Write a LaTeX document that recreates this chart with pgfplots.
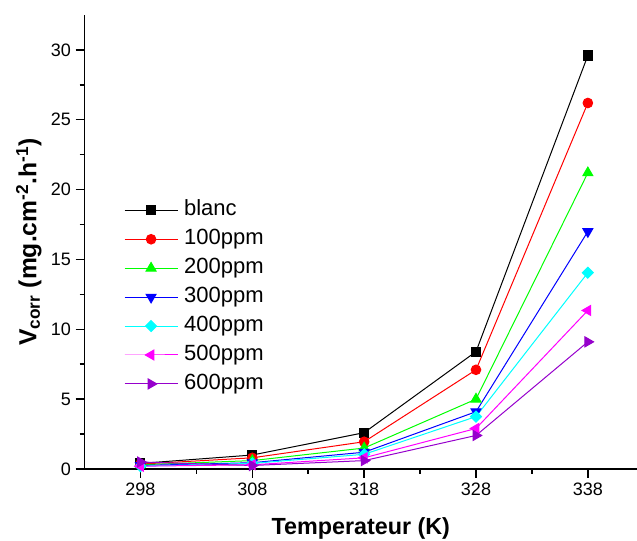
\documentclass[border=0pt]{standalone}
\usepackage{fontspec}
\setmainfont{Liberation Sans}
\usepackage{pgfplots}
\pgfplotsset{compat=1.18}
\definecolor{mypurple}{RGB}{150,0,204}
\definecolor{mycyan}{RGB}{0,255,255}
\definecolor{mymagenta}{RGB}{255,0,255}
\definecolor{mygreen}{RGB}{0,255,0}
\definecolor{myblue}{RGB}{0,0,255}
\definecolor{myred}{RGB}{255,0,0}
\begin{document}
\begin{tikzpicture}
\begin{axis}[
  scale only axis,
  width=414.4pt, height=340.5pt,
  xmin=293, xmax=342.4, ymin=0, ymax=32.5,
  axis lines=left,
  axis line style={-, line width=1.3pt},
  xtick={298,308,318,328,338},
  ytick={0,5,10,15,20,25,30},
  minor x tick num=1, minor y tick num=1,
  tick align=outside,
  major tick length=6.75pt, minor tick length=3.75pt,
  every tick/.style={black, line width=1.1pt},
  /pgf/number format/assume math mode=true,
  /pgf/number format/1000 sep={},
  tick label style={font=\fontsize{13.5}{16}\selectfont},
  xlabel={\textbf{Temperateur (K)}},
  ylabel={\textbf{V\textsubscript{corr} (mg.cm\textsuperscript{-2}.h\textsuperscript{-1})}},
  xlabel style={font=\fontsize{17.5}{20}\selectfont, yshift=-10pt},
  ylabel style={font=\fontsize{18.5}{21}\selectfont},
  clip=false,
  legend cell align=left,
  legend image code/.code={\draw[mark repeat=2,mark phase=2,#1] plot coordinates {(0pt,0pt) (19.9pt,0pt) (39.8pt,0pt)};},
  legend style={draw=none, fill=none, inner sep=0pt, outer sep=0pt,
    at={(0.0715,0.5925)}, anchor=north west,
    font=\fontsize{16.5}{19}\selectfont,
    nodes={inner sep=0pt, text height=12pt, text depth=3.5pt},
    row sep=6.2pt,
    /tikz/every odd column/.append style={column sep=4.5pt}},
  every axis plot/.append style={line width=0.75pt},
]
\addplot[black, mark=square*, mark size=3.4pt] coordinates {(298,0.4) (308,1.0) (318,2.6) (328,8.4) (338,29.6)};
\addlegendentry{blanc}
\addplot[myred, mark=*, mark size=3.6pt] coordinates {(298,0.35) (308,0.8) (318,1.95) (328,7.1) (338,26.2)};
\addlegendentry{100ppm}
\addplot[mygreen, mark=triangle*, mark size=4.3pt] coordinates {(298,0.3) (308,0.6) (318,1.5) (328,5.0) (338,21.2)};
\addlegendentry{200ppm}
\addplot[myblue, mark=triangle*, mark size=4.3pt, mark options={rotate=180}] coordinates {(298,0.25) (308,0.45) (318,1.2) (328,4.1) (338,17.0)};
\addlegendentry{300ppm}
\addplot[mycyan, mark=square*, mark size=2.9pt, mark options={rotate=45}] coordinates {(298,0.2) (308,0.4) (318,1.05) (328,3.75) (338,14.05)};
\addlegendentry{400ppm}
\addplot[mymagenta, mark=triangle*, mark size=4.3pt, mark options={rotate=90}] coordinates {(298,0.2) (308,0.3) (318,0.8) (328,2.9) (338,11.35)};
\addlegendentry{500ppm}
\addplot[mypurple, mark=triangle*, mark size=4.3pt, mark options={rotate=-90}] coordinates {(298,0.5) (308,0.25) (318,0.6) (328,2.4) (338,9.1)};
\addlegendentry{600ppm}
\end{axis}
\pgfresetboundingbox
\path (current axis.south west) ++(-63.4pt,-54pt) rectangle ++(477.75pt,405.75pt);
\end{tikzpicture}
\end{document}
